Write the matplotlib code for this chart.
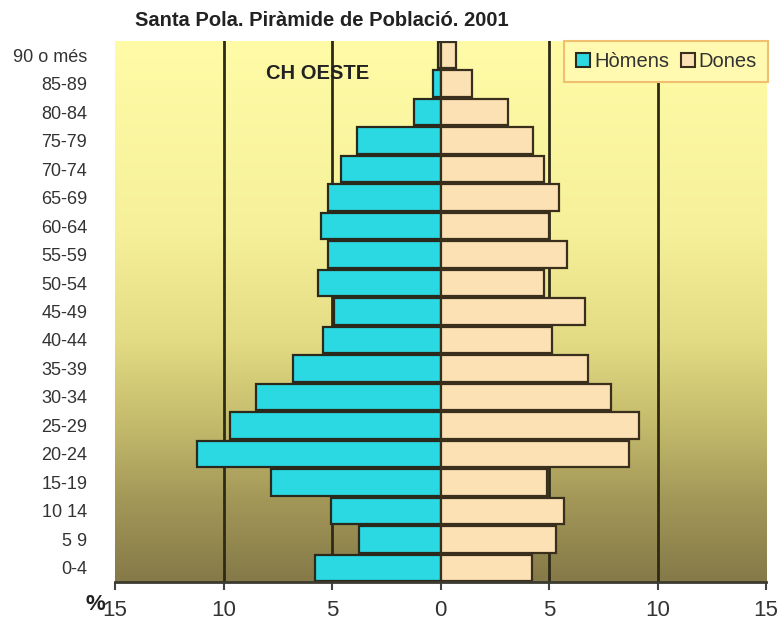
import numpy as np
import matplotlib
matplotlib.use("Agg")
import matplotlib.pyplot as plt
from matplotlib.colors import LinearSegmentedColormap
from matplotlib.lines import Line2D

plt.rcParams['font.family'] = ['Liberation Sans', 'DejaVu Sans']

# ---- data (bottom to top) ----
age_groups = ["0-4", "5 9", "10 14", "15-19", "20-24", "25-29", "30-34", "35-39",
              "40-44", "45-49", "50-54", "55-59", "60-64", "65-69", "70-74",
              "75-79", "80-84", "85-89", "90 o més"]
homens = [5.8, 3.75, 5.05, 7.8, 11.2, 9.7, 8.5, 6.8, 5.4, 4.9, 5.65, 5.2,
          5.5, 5.2, 4.6, 3.85, 1.2, 0.35, 0.1]
dones = [4.2, 5.3, 5.7, 4.9, 8.7, 9.15, 7.85, 6.8, 5.15, 6.65, 4.75, 5.85,
         5.0, 5.45, 4.75, 4.25, 3.1, 1.45, 0.7]
xticks = [-15, -10, -5, 0, 5, 10, 15]
title = "Santa Pola. Piràmide de Població. 2001"
subtitle = "CH OESTE"

fig = plt.figure(figsize=(7.84, 6.23), dpi=100)
ax = fig.add_axes([115/784, 1-582/623, (766-115)/784, (582-41)/623])

y = np.arange(len(age_groups))
n = len(age_groups)

# gradient background (light at top, olive at bottom)
cmap = LinearSegmentedColormap.from_list("bg", [
    (0.0, "#FFFBA6"), (0.35, "#F6F09A"), (0.55, "#E4DC84"),
    (0.72, "#C2B86A"), (0.85, "#A39758"), (1.0, "#857A48")])
grad = np.linspace(0, 1, 256).reshape(-1, 1)  # row 0 = top
ax.imshow(grad, cmap=cmap, aspect='auto', extent=(-15, 15, -0.5, n - 0.5),
          origin='upper', zorder=0, interpolation='bilinear')
ax.set_xlim(-15, 15)
ax.set_ylim(-0.5, n - 0.5)

for gx in [-10, -5, 5, 10]:
    ax.axvline(gx, color="#2E2A18", lw=2.0, zorder=1)

h = 0.93
ax.barh(y, [-v for v in homens], height=h, color="#2AD9E2", edgecolor="#2A2A1C",
        linewidth=1.6, zorder=2)
ax.barh(y, dones, height=h, color="#FCE1B4", edgecolor="#3A2E1C",
        linewidth=1.6, zorder=2)

ax.set_yticks(y)
ax.set_yticklabels(age_groups, fontsize=13, color="#333333")
ax.tick_params(axis='y', length=0, pad=20)
ax.set_xticks(xticks)
ax.set_xticklabels([str(abs(t)) for t in xticks], fontsize=16, color="#333333")
ax.tick_params(axis='x', length=6, width=1.5, color="#444444", pad=7)

for s in ["top", "right", "left"]:
    ax.spines[s].set_visible(False)
ax.spines["bottom"].set_color("#3A3A30")
ax.spines["bottom"].set_linewidth(2)

fig.text(322/784, 1-20/623, title, ha='center', va='center', fontsize=14.5,
         fontweight='bold', color="#222222")
ax.text(-8.05, 17.35, subtitle, ha='left', va='center', fontsize=14.5,
        fontweight='bold', color="#222222", zorder=3)
fig.text(95/784, 1-605/623, "%", ha='center', va='center', fontsize=16,
         fontweight='bold', color="#222222")

handles = [
    Line2D([], [], marker='s', linestyle='none', markersize=10,
           markerfacecolor="#2AD9E2", markeredgecolor="#2A2A1C", markeredgewidth=1.5),
    Line2D([], [], marker='s', linestyle='none', markersize=10,
           markerfacecolor="#FCE1B4", markeredgecolor="#3A2E1C", markeredgewidth=1.5),
]
leg = ax.legend(handles, ["Hòmens", "Dones"], loc='upper right',
                bbox_to_anchor=(1.003, 1.0), ncol=2, fontsize=14.5,
                frameon=True, fancybox=False, handlelength=0.8, handletextpad=0.15,
                columnspacing=0.5, borderpad=0.55, borderaxespad=0)
leg.get_frame().set_facecolor("#FFFAB0")
leg.get_frame().set_edgecolor("#F0C070")
leg.get_frame().set_linewidth(1.5)
leg.get_frame().set_alpha(1)
leg.set_zorder(5)
for t in leg.get_texts():
    t.set_color("#333333")

fig.savefig("out.png", dpi=100, facecolor="white")
